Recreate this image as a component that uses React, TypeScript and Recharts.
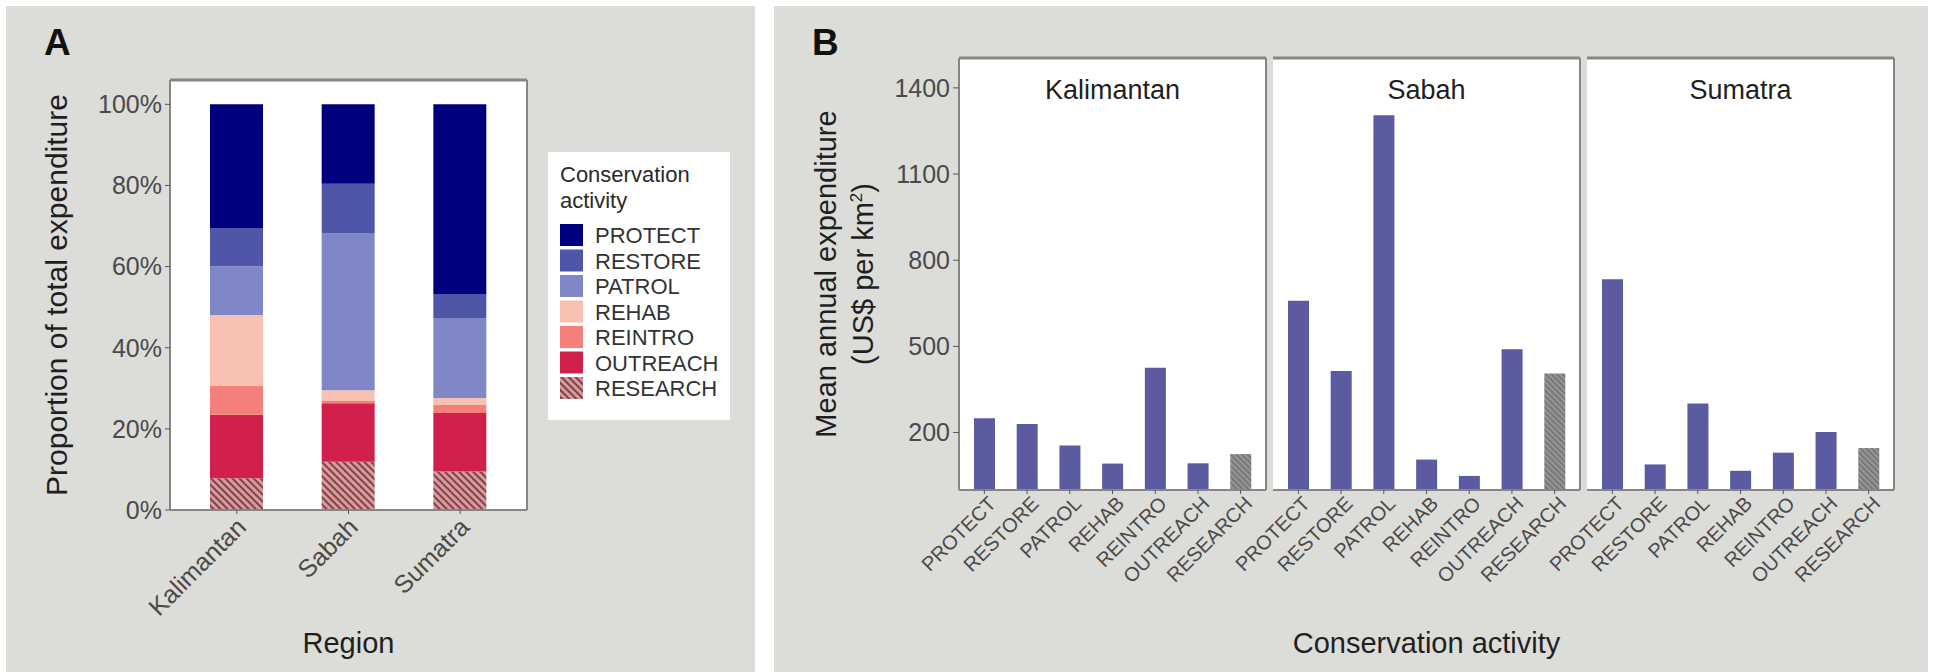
import React from "react";
import { BarChart, Bar, XAxis, YAxis, CartesianGrid, Cell, Legend, Label } from "recharts";

const REGIONS = ["Kalimantan", "Sabah", "Sumatra"];
const ACTIVITIES = ["PROTECT", "RESTORE", "PATROL", "REHAB", "REINTRO", "OUTREACH", "RESEARCH"];

// share of total expenditure (%), in REGIONS order
const PROTECT_SHARE = [30.6, 19.6, 46.9];
const RESTORE_SHARE = [9.3, 12.1, 5.8];
const PATROL_SHARE = [12.0, 38.8, 19.7];
const REHAB_SHARE = [17.5, 2.6, 1.7];
const REINTRO_SHARE = [7.1, 0.6, 2.0];
const OUTREACH_SHARE = [15.7, 14.4, 14.4];
const RESEARCH_SHARE = [7.8, 11.9, 9.5];
const PERCENT_TICKS = [0, 20, 40, 60, 80, 100];

// mean annual expenditure (US$ per km2), in ACTIVITIES order
const KALIMANTAN_SPEND = [250, 230, 155, 92, 426, 93, 125];
const SABAH_SPEND = [659, 414, 1305, 106, 49, 490, 406];
const SUMATRA_SPEND = [734, 89, 301, 67, 130, 202, 146];
const SPEND_TICKS = [200, 500, 800, 1100, 1400];

const FONT = '"Liberation Sans", Arial, Helvetica, sans-serif';
const TICK_COLOR = "#4a4a4a";
const TITLE_COLOR = "#1f1f1f";
const BORDER = "#868686";
const PANEL_BG = "#dcdcd8";
const SPEND_BAR = "#5b5ba1";

const FILLS: Record<string, string> = {
  PROTECT: "#00007e",
  RESTORE: "#4f55a7",
  PATROL: "#8087c6",
  REHAB: "#f7c1b1",
  REINTRO: "#f48079",
  OUTREACH: "#d2204c",
  RESEARCH: "url(#hatchRed)",
};

const SHARES: Record<string, number[]> = {
  PROTECT: PROTECT_SHARE,
  RESTORE: RESTORE_SHARE,
  PATROL: PATROL_SHARE,
  REHAB: REHAB_SHARE,
  REINTRO: REINTRO_SHARE,
  OUTREACH: OUTREACH_SHARE,
  RESEARCH: RESEARCH_SHARE,
};

const shareData = REGIONS.map((region, i) => {
  const row: Record<string, string | number> = { region };
  ACTIVITIES.forEach((a) => (row[a] = SHARES[a][i]));
  return row;
});

const spendData = (values: number[]) =>
  ACTIVITIES.map((activity, i) => ({ activity, value: values[i] }));

const FACETS = [
  { region: "Kalimantan", data: spendData(KALIMANTAN_SPEND) },
  { region: "Sabah", data: spendData(SABAH_SPEND) },
  { region: "Sumatra", data: spendData(SUMATRA_SPEND) },
];

const RegionTick = ({ x, y, payload }: any) => (
  <g transform={`translate(${x - 2},${y})`}>
    <text transform="rotate(-45)" textAnchor="end" dy={18} fontSize={25} fill={TICK_COLOR} fontFamily={FONT}>
      {payload.value}
    </text>
  </g>
);

const ActivityTick = ({ x, y, payload }: any) => (
  <g transform={`translate(${x + 3},${y - 1})`}>
    <text transform="rotate(-45)" textAnchor="end" dy={14} fontSize={20} fill={TICK_COLOR} fontFamily={FONT}>
      {payload.value}
    </text>
  </g>
);

const ActivityLegend = () => (
  <div
    style={{
      background: "#fff",
      width: 182,
      height: 268,
      boxSizing: "border-box",
      padding: "10px 0 0 12px",
      fontFamily: FONT,
    }}
  >
    <div style={{ fontSize: 22, lineHeight: "26px", color: "#2a2a2a" }}>
      Conservation
      <br />
      activity
    </div>
    <svg width={170} height={185} style={{ display: "block", marginTop: 10 }}>
      {ACTIVITIES.map((a, i) => (
        <g key={a} transform={`translate(0, ${i * 25.5})`}>
          <rect width={23} height={22} fill={FILLS[a]} />
          <text x={35} y={19} fontSize={22} fill="#333" fontFamily={FONT}>
            {a}
          </text>
        </g>
      ))}
    </svg>
  </div>
);

function ShareChart() {
  return (
    <BarChart
      width={755}
      height={672}
      data={shareData}
      margin={{ top: 79, right: 227, bottom: 102, left: 0 }}
      barSize={53}
    >
      <CartesianGrid horizontal={false} vertical={false} fill="#fff" />
      <XAxis
        dataKey="region"
        height={60}
        interval={0}
        padding={{ left: 11, right: 11 }}
        tick={<RegionTick />}
        tickSize={4}
        tickLine={{ stroke: "#555" }}
        axisLine={{ stroke: BORDER, strokeWidth: 2 }}
      >
        <Label
          content={({ viewBox }: any) => (
            <text
              x={viewBox.x + viewBox.width / 2}
              y={viewBox.y + 143}
              textAnchor="middle"
              fontSize={29}
              fill={TITLE_COLOR}
              fontFamily={FONT}
            >
              Region
            </text>
          )}
        />
      </XAxis>
      <XAxis
        xAxisId="top"
        orientation="top"
        dataKey="region"
        height={1}
        tick={false}
        tickLine={false}
        axisLine={{ stroke: BORDER, strokeWidth: 3 }}
      />
      <YAxis
        width={170}
        domain={[0, 106]}
        ticks={PERCENT_TICKS}
        allowDataOverflow
        tickFormatter={(v: number) => `${v}%`}
        tick={{ fontSize: 25, fill: TICK_COLOR, fontFamily: FONT }}
        tickSize={5}
        tickMargin={3}
        tickLine={{ stroke: "#555" }}
        axisLine={{ stroke: BORDER, strokeWidth: 2 }}
      >
        <Label
          content={({ viewBox }: any) => (
            <text
              transform={`translate(${viewBox.x + 56},${viewBox.y + viewBox.height / 2}) rotate(-90)`}
              textAnchor="middle"
              dominantBaseline="central"
              fontSize={30}
              fill={TITLE_COLOR}
              fontFamily={FONT}
            >
              Proportion of total expenditure
            </text>
          )}
        />
      </YAxis>
      <YAxis
        yAxisId="right"
        orientation="right"
        width={1}
        domain={[0, 106]}
        tick={false}
        tickLine={false}
        axisLine={{ stroke: BORDER, strokeWidth: 2 }}
      />
      {[...ACTIVITIES].reverse().map((a) => (
        <Bar key={a} dataKey={a} stackId="share" fill={FILLS[a]} isAnimationActive={false} />
      ))}
      <Legend
        layout="horizontal"
        verticalAlign="middle"
        align="center"
        content={() => <ActivityLegend />}
        wrapperStyle={{ position: "absolute", left: 548, top: 152, width: 182, height: 268 }}
      />
    </BarChart>
  );
}

function FacetChart({ region, data, index }: { region: string; data: any[]; index: number }) {
  const first = index === 0;
  const padLeft = first ? 0 : 80;
  return (
    <BarChart
      width={(first ? 184 : padLeft) + 308}
      height={672}
      data={data}
      margin={{ top: 57, right: 0, bottom: 82, left: padLeft }}
      barSize={21}
    >
      <CartesianGrid horizontal={false} vertical={false} fill="#fff" />
      <XAxis
        dataKey="activity"
        height={100}
        interval={0}
        padding={{ left: 4, right: 4 }}
        tick={<ActivityTick />}
        tickSize={4}
        tickLine={{ stroke: "#555" }}
        axisLine={{ stroke: BORDER, strokeWidth: 2 }}
      >
        {index === 1 && (
          <Label
            content={({ viewBox }: any) => (
              <text
                x={viewBox.x + viewBox.width / 2}
                y={viewBox.y + 163}
                textAnchor="middle"
                fontSize={29}
                fill={TITLE_COLOR}
                fontFamily={FONT}
              >
                Conservation activity
              </text>
            )}
          />
        )}
      </XAxis>
      <XAxis
        xAxisId="top"
        orientation="top"
        dataKey="activity"
        height={1}
        tick={false}
        tickLine={false}
        axisLine={{ stroke: BORDER, strokeWidth: 3 }}
      >
        <Label
          content={({ viewBox }: any) => (
            <text
              x={viewBox.x + viewBox.width / 2}
              y={viewBox.y + 42}
              textAnchor="middle"
              fontSize={27}
              fill={TITLE_COLOR}
              fontFamily={FONT}
            >
              {region}
            </text>
          )}
        />
      </XAxis>
      <YAxis
        width={first ? 184 : 0}
        domain={[0, 1504]}
        ticks={SPEND_TICKS}
        allowDataOverflow
        tick={first ? { fontSize: 25, fill: TICK_COLOR, fontFamily: FONT } : false}
        tickSize={first ? 6 : 0}
        tickMargin={3}
        tickLine={first ? { stroke: "#555" } : false}
        axisLine={{ stroke: BORDER, strokeWidth: 2 }}
      >
        {first && (
          <Label
            content={({ viewBox }: any) => (
              <text
                transform={`translate(${viewBox.x + 61},${viewBox.y + viewBox.height / 2}) rotate(-90)`}
                textAnchor="middle"
                fontSize={29}
                fill={TITLE_COLOR}
                fontFamily={FONT}
              >
                <tspan x={0} dy={0}>
                  Mean annual expenditure
                </tspan>
                <tspan x={0} dy={37}>
                  (US$ per km
                </tspan>
                <tspan dy={-11} fontSize={17}>
                  2
                </tspan>
                <tspan dy={11}>)</tspan>
              </text>
            )}
          />
        )}
      </YAxis>
      <YAxis
        yAxisId="right"
        orientation="right"
        width={1}
        domain={[0, 1504]}
        tick={false}
        tickLine={false}
        axisLine={{ stroke: BORDER, strokeWidth: 2 }}
      />
      <Bar dataKey="value" isAnimationActive={false}>
        {data.map((d) => (
          <Cell key={d.activity} fill={d.activity === "RESEARCH" ? "url(#hatchGray)" : SPEND_BAR} />
        ))}
      </Bar>
    </BarChart>
  );
}

const FACET_LEFT = [775, 1193, 1507];

export default function App() {
  return (
    <div style={{ position: "absolute", left: 0, top: 0, width: 1935, height: 672, background: "#fff", fontFamily: FONT }}>
      <svg width={0} height={0} style={{ position: "absolute" }}>
        <defs>
          <pattern id="hatchRed" width={5} height={5} patternUnits="userSpaceOnUse" patternTransform="rotate(-45)">
            <rect width={5} height={5} fill="#e3959a" />
            <rect width={2} height={5} fill="#6d4a4c" />
          </pattern>
          <pattern id="hatchGray" width={4} height={4} patternUnits="userSpaceOnUse" patternTransform="rotate(-45)">
            <rect width={4} height={4} fill="#959595" />
            <rect width={1.5} height={4} fill="#6f6f6f" />
          </pattern>
        </defs>
      </svg>
      <div style={{ position: "absolute", left: 6, top: 6, width: 749, height: 666, background: PANEL_BG }} />
      <div style={{ position: "absolute", left: 774, top: 6, width: 1154, height: 666, background: PANEL_BG }} />
      <div style={{ position: "absolute", left: 44, top: 22, fontSize: 37, fontWeight: "bold", color: "#111" }}>A</div>
      <div style={{ position: "absolute", left: 812, top: 22, fontSize: 37, fontWeight: "bold", color: "#111" }}>B</div>
      <div style={{ position: "absolute", left: 0, top: 0 }}>
        <ShareChart />
      </div>
      {FACETS.map((f, i) => (
        <div key={f.region} style={{ position: "absolute", left: FACET_LEFT[i], top: 0 }}>
          <FacetChart region={f.region} data={f.data} index={i} />
        </div>
      ))}
    </div>
  );
}
